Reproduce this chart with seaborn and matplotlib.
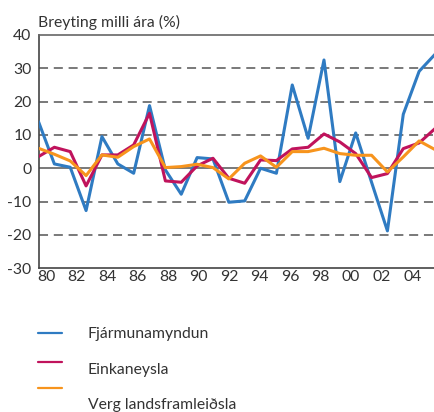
import numpy as np
import pandas as pd
import matplotlib
matplotlib.use("Agg")
import matplotlib.pyplot as plt
from matplotlib.lines import Line2D
import seaborn as sns

years = list(range(1980, 2006))
fjarmunamyndun = [14.0, 1.3, 0.3, -12.7, 9.5, 1.3, -1.5, 18.8, -0.5, -7.8,
                  3.2, 2.8, -10.2, -9.8, 0.0, -1.5, 25.0, 9.0, 32.5, -4.0,
                  10.6, -4.2, -18.8, 16.2, 29.1, 34.2]
einkaneysla = [3.5, 6.3, 5.0, -5.3, 4.0, 4.0, 7.0, 16.5, -3.8, -4.2,
               0.7, 3.0, -3.0, -4.5, 2.5, 2.3, 5.8, 6.3, 10.3, 7.9,
               4.4, -2.8, -1.6, 5.9, 7.6, 11.9]
verg_lf = [6.0, 4.2, 2.2, -2.2, 4.0, 3.3, 6.5, 8.8, 0.2, 0.5,
           1.2, 0.2, -3.2, 1.5, 3.7, 0.3, 5.0, 5.0, 6.0, 4.4,
           3.9, 3.9, -1.1, 3.4, 8.2, 5.6]
series_names = ["Fjármunamyndun", "Einkaneysla", "Verg landsframleiðsla"]
colors = ["#2f7bc2", "#c0135c", "#f7941d"]
xtick_labels = ["80", "82", "84", "86", "88", "90", "92", "94", "96", "98", "00", "02", "04"]
yticks = [-30, -20, -10, 0, 10, 20, 30, 40]
title = "Breyting milli ára (%)"

df = pd.DataFrame({
    "year": years * 3,
    "value": fjarmunamyndun + einkaneysla + verg_lf,
    "series": [series_names[0]] * len(years) + [series_names[1]] * len(years) + [series_names[2]] * len(years),
})

sns.set_style("white")
plt.rcParams["font.family"] = ["Lato", "DejaVu Sans"]
text_color = "#333333"
fs = 11.3

fig = plt.figure(figsize=(4.35, 4.12), dpi=100)
ax = fig.add_axes([38.5 / 435, 143.8 / 412, 1 - 38.5 / 435, (268.2 - 35) / 412])

# grid lines
for v in [-20, -10, 10, 20, 30]:
    ax.axhline(v, color="#6e6e6e", lw=1.3, ls=(0, (5, 3.2)), zorder=1)
ax.axhline(0, color="#555555", lw=1.1, zorder=1)

sns.lineplot(data=df, x="year", y="value", hue="series", hue_order=series_names,
             palette=colors, linewidth=2.2, legend=False, ax=ax, zorder=3)

ax.set_xlim(1980, 2005)
ax.set_ylim(-30, 40)
ax.set_xlabel("")
ax.set_ylabel("")

# y axis
ax.set_yticks(yticks)
ax.set_yticklabels([str(v) for v in yticks])
ax.tick_params(axis="y", length=0, pad=5, labelsize=fs, labelcolor=text_color)

# x axis: ticks at boundaries, labels centred between
n_int = 26
bounds = np.linspace(1980, 2005, n_int + 1)
step = bounds[1] - bounds[0]
label_pos = [bounds[2 * i] + step / 2 for i in range(len(xtick_labels))]
ax.set_xticks(bounds, minor=True)
ax.set_xticks(label_pos)
ax.set_xticklabels(xtick_labels)
ax.tick_params(axis="x", which="major", length=0, pad=1.5, labelsize=fs, labelcolor=text_color)
ax.tick_params(axis="x", which="minor", length=4, width=1.1, color="#444444", direction="out")

for s in ["left", "bottom"]:
    ax.spines[s].set_color("#444444")
    ax.spines[s].set_linewidth(1.2)
ax.spines["top"].set_color("#666666")
ax.spines["top"].set_linewidth(1.2)
ax.spines["right"].set_visible(False)

fig.text(38 / 435, (412 - 27) / 412, title, fontsize=fs, color=text_color,
         ha="left", va="baseline")

# legend
line_y = [333.3, 361.7, 387.7]
text_y = [334.3, 370.0, 405.0]
for name, c, ly, ty in zip(series_names, colors, line_y, text_y):
    fig.add_artist(Line2D([38 / 435, 62 / 435], [(412 - ly) / 412] * 2,
                          transform=fig.transFigure, color=c, lw=1.6))
    fig.text(88 / 435, (412 - ty) / 412, name, fontsize=fs, color=text_color,
             ha="left", va="center")

fig.savefig("out.png", dpi=100)
